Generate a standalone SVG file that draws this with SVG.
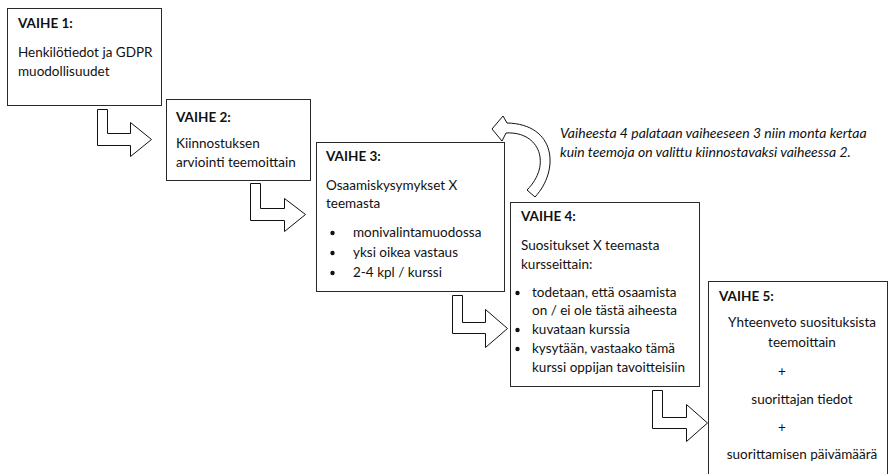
<svg xmlns="http://www.w3.org/2000/svg" width="889" height="474" viewBox="0 0 889 474">
  <style>
    .box { fill: #ffffff; stroke: #2a2a2a; stroke-width: 1; }
    .t { font-family: Lato, "Liberation Sans", sans-serif; font-size: 13.5px; fill: #111111; }
    .h { font-weight: bold; }
    .it { font-style: italic; font-size: 14px; }
    .mid { text-anchor: middle; }
    .dot { fill: #111111; }
    .arrow { fill: #ffffff; stroke: #111111; stroke-width: 1; stroke-linejoin: miter; }
  </style>
  <rect width="889" height="474" fill="#ffffff"/>

  <!-- step boxes -->
  <g id="vaihe1">
    <rect class="box" x="7.5" y="8.5" width="154" height="97"/>
    <text class="t h" x="18" y="28">VAIHE 1:</text>
    <text class="t" x="18" y="57">Henkilötiedot ja GDPR</text>
    <text class="t" x="18" y="76">muodollisuudet</text>
  </g>

  <g id="vaihe2">
    <rect class="box" x="166.5" y="99.5" width="144" height="81"/>
    <text class="t h" x="176" y="122">VAIHE 2:</text>
    <text class="t" x="176" y="148">Kiinnostuksen</text>
    <text class="t" x="176" y="167">arviointi teemoittain</text>
  </g>

  <g id="vaihe3">
    <rect class="box" x="316.5" y="142.5" width="188" height="149"/>
    <text class="t h" x="326" y="161">VAIHE 3:</text>
    <text class="t" x="326" y="190">Osaamiskysymykset X</text>
    <text class="t" x="326" y="208">teemasta</text>
    <circle class="dot" cx="332.5" cy="233" r="2.2"/>
    <circle class="dot" cx="332.5" cy="253" r="2.2"/>
    <circle class="dot" cx="332.5" cy="273" r="2.2"/>
    <text class="t" x="353" y="237">monivalintamuodossa</text>
    <text class="t" x="353" y="257">yksi oikea vastaus</text>
    <text class="t" x="353" y="277">2-4 kpl / kurssi</text>
  </g>

  <g id="vaihe4">
    <rect class="box" x="510.5" y="202.5" width="189" height="184"/>
    <text class="t h" x="521" y="221">VAIHE 4:</text>
    <text class="t" x="521" y="250">Suositukset X teemasta</text>
    <text class="t" x="521" y="269">kursseittain:</text>
    <circle class="dot" cx="517.5" cy="293" r="2.2"/>
    <circle class="dot" cx="517.5" cy="330" r="2.2"/>
    <circle class="dot" cx="517.5" cy="349" r="2.2"/>
    <text class="t" x="532" y="297">todetaan, että osaamista</text>
    <text class="t" x="532" y="315">on / ei ole tästä aiheesta</text>
    <text class="t" x="532" y="334">kuvataan kurssia</text>
    <text class="t" x="532" y="353">kysytään, vastaako tämä</text>
    <text class="t" x="532" y="372">kurssi oppijan tavoitteisiin</text>
  </g>

  <g id="vaihe5">
    <rect class="box" x="708.5" y="281.5" width="179" height="200"/>
    <text class="t h" x="719" y="301">VAIHE 5:</text>
    <text class="t mid" x="802" y="327">Yhteenveto suosituksista</text>
    <text class="t mid" x="802" y="347">teemoittain</text>
    <text class="t mid" x="782" y="376">+</text>
    <text class="t mid" x="802" y="404">suorittajan tiedot</text>
    <text class="t mid" x="782" y="432">+</text>
    <text class="t mid" x="802" y="459">suorittamisen päivämäärä</text>
  </g>

  <!-- loop note -->
  <g id="huomautus">
    <text class="t it" x="560" y="138">Vaiheesta 4 palataan vaiheeseen 3 niin monta kertaa</text>
    <text class="t it" x="560" y="157">kuin teemoja on valittu kiinnostavaksi vaiheessa 2.</text>
  </g>

  <!-- connectors: bent block arrows and the return arrow -->
  <g id="connectors">
    <path class="arrow" d="M97.5,109.5 H107.5 V133.5 H130.5 V122.5 L151.5,139.5 L130.5,156.5 V145.5 H97.5 Z"/>
    <path class="arrow" d="M250.5,183.5 H260.5 V208.5 H284.5 V198.5 L305.5,214.5 L284.5,231.5 V220.5 H250.5 Z"/>
    <path class="arrow" d="M452.5,295.5 H462.5 V322.5 H485.5 V309.5 L507.5,328.5 L485.5,347.5 V333.5 H452.5 Z"/>
    <path class="arrow" d="M652.5,390.5 H662.5 V417.5 H686.5 V404.5 L707.5,423 L686.5,441.5 V428.5 H652.5 Z"/>
    <path class="arrow" d="M535,197 C560,170 556,124 507,123 L503,116 L492,129 L502,141 L506,133 C540,131 552,165 527,190 Z"/>
  </g>
</svg>
